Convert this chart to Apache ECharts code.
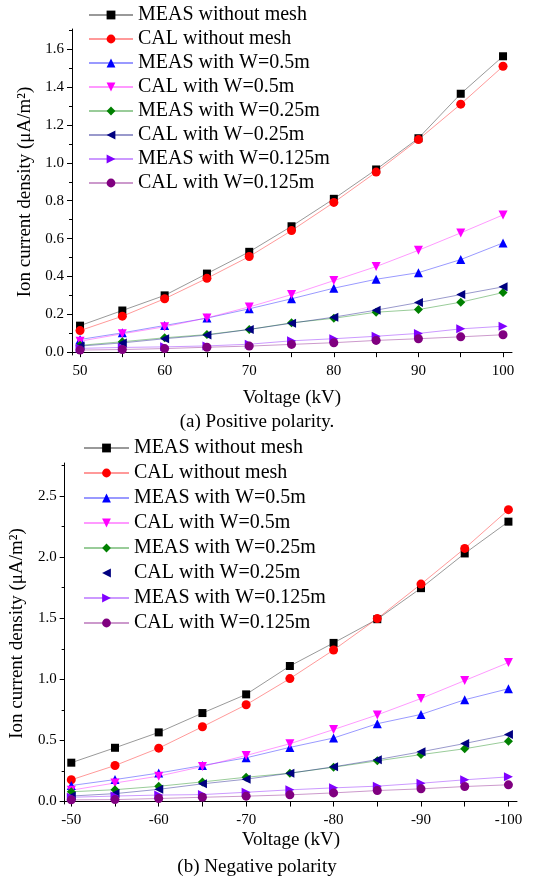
<!DOCTYPE html>
<html>
<head>
<meta charset="utf-8">
<script src="https://cdn.jsdelivr.net/npm/echarts@6/dist/echarts.min.js"></script>
<style>
  html, body { margin: 0; padding: 0; background: #fff; }
  #chart { width: 534px; height: 879px; }
</style>
</head>
<body>
<div id="chart"></div>
<script>
// voltages
var voltsPos = [50, 55, 60, 65, 70, 75, 80, 85, 90, 95, 100];
var voltsNeg = [-50, -55, -60, -65, -70, -75, -80, -85, -90, -95, -100];

// (a) positive polarity, uA/m2
var measNoMeshPos = [0.14, 0.22, 0.30, 0.415, 0.53, 0.665, 0.81, 0.965, 1.13, 1.365, 1.563];
var calNoMeshPos = [0.114, 0.19, 0.282, 0.39, 0.505, 0.642, 0.791, 0.951, 1.123, 1.31, 1.51];
var measW05Pos = [0.067, 0.102, 0.141, 0.18, 0.229, 0.282, 0.338, 0.385, 0.42, 0.489, 0.577];
var calW05Pos = [0.058, 0.097, 0.134, 0.181, 0.239, 0.304, 0.378, 0.452, 0.538, 0.63, 0.725];
var measW025Pos = [0.036, 0.055, 0.076, 0.093, 0.12, 0.155, 0.179, 0.211, 0.225, 0.264, 0.315];
var calW025Pos = [0.032, 0.049, 0.071, 0.09, 0.12, 0.153, 0.185, 0.222, 0.262, 0.304, 0.345];
var measW0125Pos = [0.02, 0.025, 0.028, 0.033, 0.042, 0.06, 0.071, 0.084, 0.099, 0.123, 0.137];
var calW0125Pos = [0.011, 0.014, 0.019, 0.026, 0.032, 0.041, 0.05, 0.062, 0.071, 0.081, 0.092];

// (b) negative polarity
var measNoMeshNeg = [0.318, 0.44, 0.566, 0.724, 0.877, 1.109, 1.298, 1.492, 1.746, 2.03, 2.29];
var calNoMeshNeg = [0.178, 0.295, 0.437, 0.612, 0.792, 1.006, 1.24, 1.497, 1.779, 2.071, 2.388];
var measW05Neg = [0.131, 0.18, 0.233, 0.295, 0.358, 0.443, 0.52, 0.637, 0.713, 0.833, 0.923];
var calW05Neg = [0.093, 0.152, 0.208, 0.287, 0.377, 0.473, 0.589, 0.709, 0.843, 0.99, 1.137];
var measW025Neg = [0.08, 0.097, 0.125, 0.161, 0.199, 0.232, 0.281, 0.333, 0.384, 0.432, 0.493];
var calW025Neg = [0.045, 0.065, 0.1, 0.145, 0.183, 0.232, 0.284, 0.343, 0.407, 0.475, 0.548];
var measW0125Neg = [0.035, 0.045, 0.053, 0.057, 0.076, 0.096, 0.112, 0.126, 0.15, 0.178, 0.202];
var calW0125Neg = [0.014, 0.016, 0.025, 0.035, 0.044, 0.055, 0.071, 0.09, 0.104, 0.123, 0.137];

var namesPos = ['MEAS without mesh', 'CAL without mesh', 'MEAS with W=0.5m', 'CAL with W=0.5m',
  'MEAS with W=0.25m', 'CAL with W\u22120.25m', 'MEAS with W=0.125m', 'CAL with W=0.125m'];
var namesNeg = ['MEAS without mesh', 'CAL without mesh', 'MEAS with W=0.5m', 'CAL with W=0.5m',
  'MEAS with W=0.25m', 'CAL with W=0.25m', 'MEAS with W=0.125m', 'CAL with W=0.125m'];

var xTicksPos = [50, 55, 60, 65, 70, 75, 80, 85, 90, 95, 100];
var xLabelsPos = [50, 60, 70, 80, 90, 100];
var xTicksNeg = [-50, -55, -60, -65, -70, -75, -80, -85, -90, -95, -100];
var xLabelsNeg = [-50, -60, -70, -80, -90, -100];
var yLabelsPos = [0, 0.2, 0.4, 0.6, 0.8, 1.0, 1.2, 1.4, 1.6];
var yMinorPos = [0.1, 0.3, 0.5, 0.7, 0.9, 1.1, 1.3, 1.5, 1.7];
var yLabelsNeg = [0, 0.5, 1.0, 1.5, 2.0, 2.5];
var yMinorNeg = [0.25, 0.75, 1.25, 1.75, 2.25, 2.75];

var FONT = '"Liberation Serif", "Times New Roman", serif';

var styles = [
  { color: '#000000', symbol: 'rect', size: 8 },
  { color: '#ff0000', symbol: 'circle', size: 9 },
  { color: '#0000ff', symbol: 'triangle', size: 9 },
  { color: '#ff00ff', symbol: 'path://M0,0L10,0L5,9Z', size: 9 },
  { color: '#008000', symbol: 'path://M5,0L10,5L5,10L0,5Z', size: 9 },
  { color: '#000080', symbol: 'path://M0,5L9,0L9,10Z', size: 9 },
  { color: '#8000ff', symbol: 'path://M0,0L9,5L0,10Z', size: 9 },
  { color: '#800080', symbol: 'circle', size: 9 }
];

var posData = [measNoMeshPos, calNoMeshPos, measW05Pos, calW05Pos, measW025Pos, calW025Pos, measW0125Pos, calW0125Pos];
var negData = [measNoMeshNeg, calNoMeshNeg, measW05Neg, calW05Neg, measW025Neg, calW025Neg, measW0125Neg, calW0125Neg];

function makeSeries(names, volts, data, xi, yi) {
  return data.map(function (vals, i) {
    var s = styles[i];
    return {
      name: names[i],
      type: 'line',
      xAxisIndex: xi,
      yAxisIndex: yi,
      data: vals.map(function (v, k) { return [volts[k], v]; }),
      symbol: s.symbol,
      symbolSize: s.size,
      itemStyle: { color: s.color },
      lineStyle: { color: s.color, width: 1, opacity: 0.4 },
      silent: true
    };
  });
}

var nameFont = { fontFamily: FONT, fontSize: 19, color: '#000' };
var lineBlack = { show: true, lineStyle: { color: '#000', width: 1 } };

function xAxis(grid, min, max, ticks, labels, inverse, gap) {
  return {
    type: 'value', gridIndex: grid, min: min, max: max, inverse: inverse,
    name: 'Voltage (kV)', nameLocation: 'middle', nameGap: gap, nameTextStyle: nameFont,
    axisLine: lineBlack,
    axisTick: { show: true, length: 5, customValues: ticks, lineStyle: { color: '#000' } },
    axisLabel: { show: true, customValues: labels, margin: 9, fontFamily: FONT, fontSize: 15, color: '#000' },
    splitLine: { show: false }
  };
}

function yAxis(grid, min, max, labels, gap) {
  return {
    type: 'value', gridIndex: grid, min: min, max: max,
    name: 'Ion current density (\u03bcA/m\u00b2)', nameLocation: 'middle', nameGap: gap, nameTextStyle: nameFont,
    axisLine: lineBlack,
    axisTick: { show: true, length: 5, customValues: labels, lineStyle: { color: '#000' } },
    axisLabel: { show: true, customValues: labels, margin: 8, fontFamily: FONT, fontSize: 15, color: '#000',
      formatter: function (v) { return v.toFixed(1); } },
    splitLine: { show: false }
  };
}

function yMinor(grid, min, max, ticks) {
  return {
    type: 'value', gridIndex: grid, min: min, max: max, position: 'left',
    axisLine: { show: false },
    axisTick: { show: true, length: 3, customValues: ticks, lineStyle: { color: '#000' } },
    axisLabel: { show: false },
    splitLine: { show: false }
  };
}

var chart = echarts.init(document.getElementById('chart'));

var option = {
  animation: false,
  backgroundColor: '#fff',
  grid: [
    { left: 72, top: 29, width: 440, height: 326 },
    { left: 63, top: 463, width: 454, height: 341 }
  ],
  legend: [
    {
      orient: 'vertical', left: 88, top: 5, padding: 0,
      itemWidth: 44, itemHeight: 11, itemGap: 4,
      textStyle: { fontFamily: FONT, fontSize: 20, color: '#000', lineHeight: 20 },
      data: namesPos,
      selectedMode: false
    },
    {
      orient: 'vertical', left: 83, top: 438, padding: 0,
      itemWidth: 45, itemHeight: 11, itemGap: 5,
      textStyle: { fontFamily: FONT, fontSize: 20, color: '#000', lineHeight: 20 },
      data: namesNeg.map(function (n, i) {
        return i === 5 ? { name: n, lineStyle: { opacity: 0 } } : n;
      }),
      selectedMode: false
    }
  ],
  xAxis: [
    xAxis(0, 49.05, 101.06, xTicksPos, xLabelsPos, false, 34),
    xAxis(1, -100.98, -49.24, xTicksNeg, xLabelsNeg, true, 27)
  ],
  yAxis: [
    yAxis(0, -0.015, 1.707, yLabelsPos, 37),
    yAxis(1, -0.02, 2.77, yLabelsNeg, 33),
    yMinor(0, -0.015, 1.707, yMinorPos),
    yMinor(1, -0.02, 2.77, yMinorNeg)
  ],
  graphic: [
    { type: 'text', x: 257, y: 422, style: { text: '(a) Positive polarity.', font: '19px ' + FONT, fill: '#000', align: 'center', verticalAlign: 'middle' } },
    { type: 'text', x: 257, y: 867, style: { text: '(b) Negative polarity', font: '19px ' + FONT, fill: '#000', align: 'center', verticalAlign: 'middle' } }
  ],
  series: makeSeries(namesPos, voltsPos, posData, 0, 0).concat(makeSeries(namesNeg, voltsNeg, negData, 1, 1))
};

chart.setOption(option);
</script>
</body>
</html>
